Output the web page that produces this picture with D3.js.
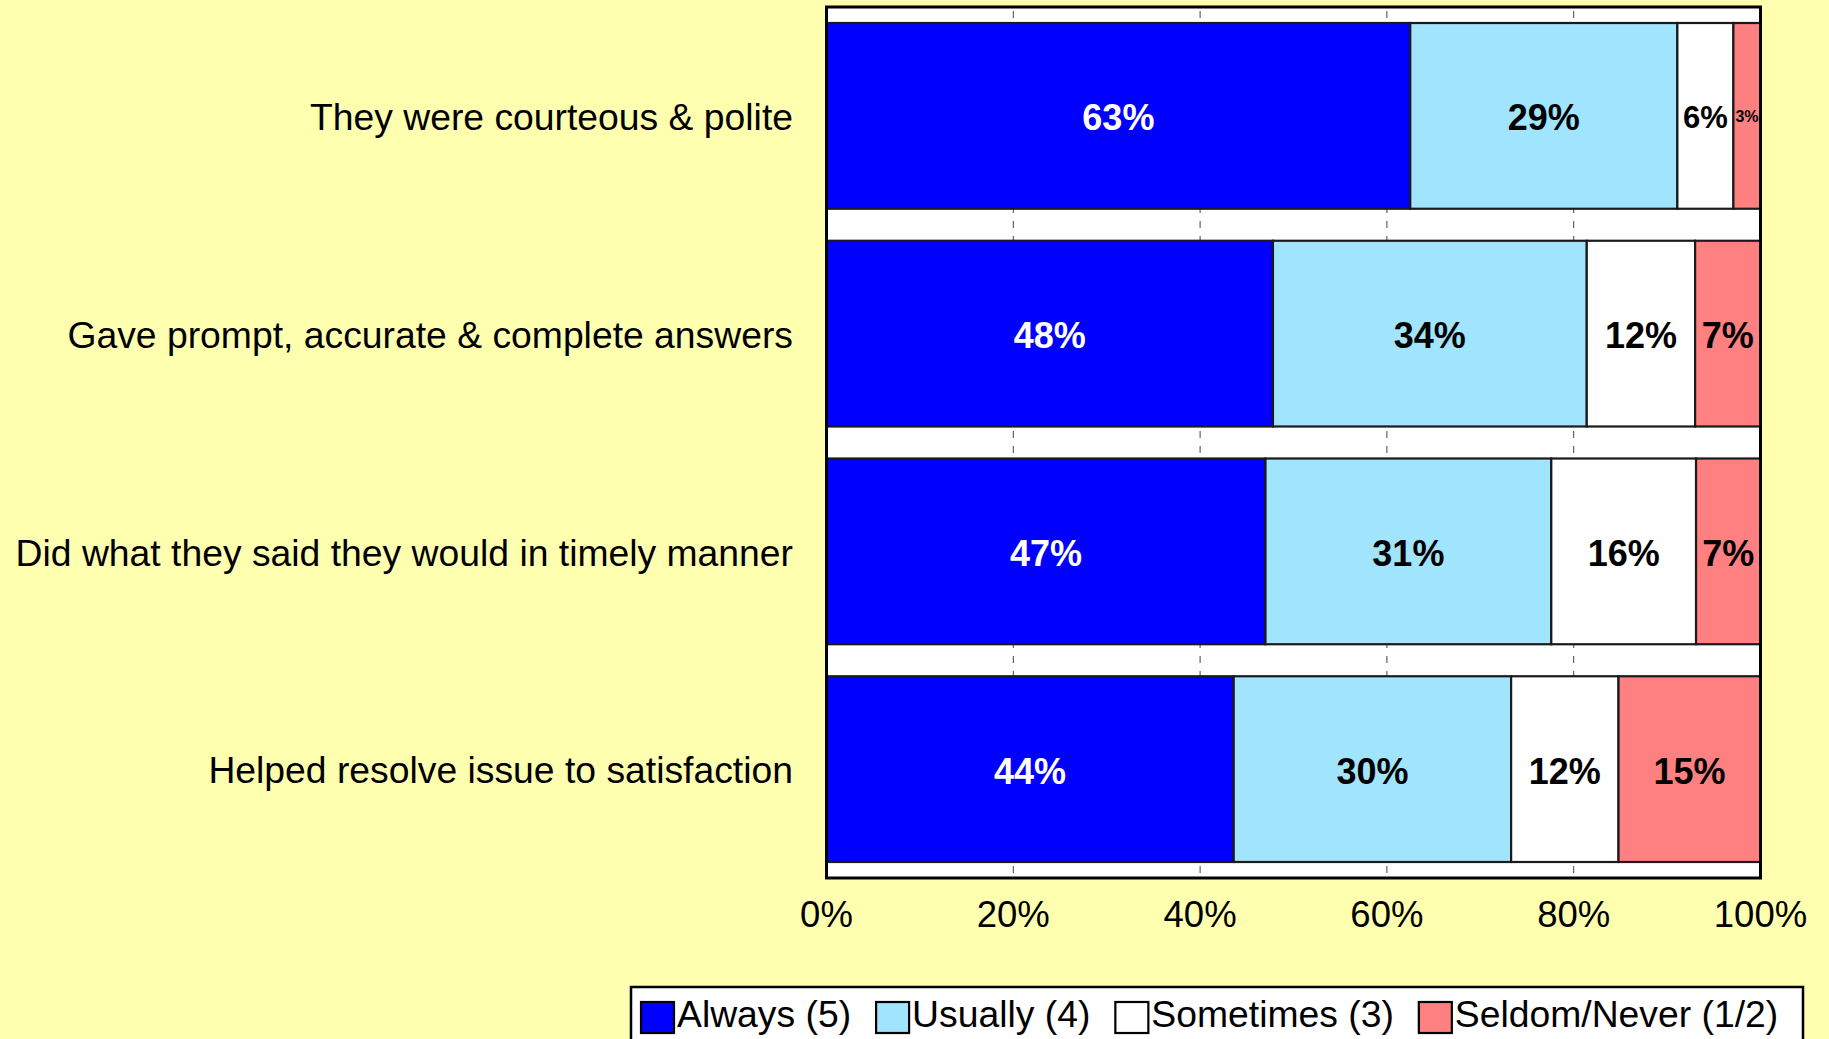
<!DOCTYPE html>
<html>
<head>
<meta charset="utf-8">
<script src="https://cdn.jsdelivr.net/npm/d3@7"></script>
<style>
    body { margin: 0; background: #ffffb0; }
    text { font-family: "Liberation Sans", Arial, sans-serif; }
</style>
</head>
<body>
<div id="chart"></div>
<script>
var width = 1829;
var height = 1039;

// survey questions, top to bottom
var categories = [
    "They were courteous & polite",
    "Gave prompt, accurate & complete answers",
    "Did what they said they would in timely manner",
    "Helped resolve issue to satisfaction"
];
var seriesNames = ["Always (5)", "Usually (4)", "Sometimes (3)", "Seldom/Never (1/2)"];
var seriesColors = ["#0000ff", "#a0e4fd", "#ffffff", "#ff8080"];
var labelColors = ["#ffffff", "#000000", "#000000", "#000000"];

// percent of responses per question, one array per series
var always = [62.5, 47.8, 47.0, 43.6];
var usually = [28.6, 33.6, 30.6, 29.7];
var sometimes = [6.0, 11.6, 15.5, 11.5];
var seldom = [2.9, 7.0, 6.9, 15.2];

var tickValues = [0, 20, 40, 60, 80, 100];

var plotLeft = 826.5;
var plotRight = 1760.5;
var plotTop = 7;
var plotBottom = 878;

var svg = d3.select("#chart").append("svg")
    .attr("width", width)
    .attr("height", height);

svg.append("rect").attr("width", width).attr("height", height).attr("fill", "#ffffb0");

var x = d3.scaleLinear().domain([0, 100]).range([plotLeft, plotRight]);
var y = d3.scaleBand().domain(categories).range([plotTop, plotBottom])
    .paddingInner(0.147).paddingOuter(0.0735);

// build rows for the stack
var keys = ["s0", "s1", "s2", "s3"];
var rows = categories.map(function (c, i) {
    return {cat: c, s0: always[i], s1: usually[i], s2: sometimes[i], s3: seldom[i]};
});
var stacked = d3.stack().keys(keys)(rows);

// plot area
svg.append("rect")
    .attr("x", plotLeft).attr("y", plotTop)
    .attr("width", plotRight - plotLeft).attr("height", plotBottom - plotTop)
    .attr("fill", "#ffffff");

// dashed gridlines
svg.append("g").selectAll("line")
    .data(tickValues.filter(function (t) { return t > 0 && t < 100; }))
    .enter().append("line")
    .attr("x1", d => x(d)).attr("x2", d => x(d))
    .attr("y1", plotTop).attr("y2", plotBottom)
    .attr("stroke", "#444").attr("stroke-width", 1)
    .attr("stroke-dasharray", "7,8").attr("stroke-dashoffset", -4);

// bar segments
var groups = svg.append("g").selectAll("g")
    .data(stacked).enter().append("g")
    .attr("fill", (d, i) => seriesColors[i]);

groups.selectAll("rect")
    .data(d => d).enter().append("rect")
    .attr("x", d => x(d[0]))
    .attr("y", d => y(d.data.cat))
    .attr("width", d => x(d[1]) - x(d[0]))
    .attr("height", y.bandwidth())
    .attr("stroke", "#1a1a1a").attr("stroke-width", 2.2);

// value labels, smaller when the segment is narrow
groups.each(function (series, si) {
    d3.select(this).selectAll("text")
        .data(series).enter().append("text")
        .attr("x", d => (x(d[0]) + x(d[1])) / 2)
        .attr("y", d => y(d.data.cat) + y.bandwidth() / 2)
        .attr("text-anchor", "middle")
        .attr("dy", "0.4em")
        .attr("font-weight", "bold")
        .attr("font-size", function (d) {
            var w = x(d[1]) - x(d[0]);
            return Math.min(36, Math.round(0.52 * w + 2));
        })
        .attr("fill", labelColors[si])
        .text(d => Math.round(d.data[keys[si]]) + "%");
});

// plot border
svg.append("rect")
    .attr("x", plotLeft).attr("y", plotTop)
    .attr("width", plotRight - plotLeft).attr("height", plotBottom - plotTop)
    .attr("fill", "none").attr("stroke", "#000").attr("stroke-width", 3);

// category labels
svg.append("g").selectAll("text")
    .data(categories).enter().append("text")
    .attr("x", 793)
    .attr("y", d => y(d) + y.bandwidth() / 2)
    .attr("dy", "0.38em")
    .attr("text-anchor", "end")
    .attr("font-size", 37.3)
    .attr("fill", "#000")
    .text(d => d);

// x axis labels
svg.append("g").selectAll("text")
    .data(tickValues).enter().append("text")
    .attr("x", d => x(d))
    .attr("y", 914)
    .attr("dy", "0.36em")
    .attr("text-anchor", "middle")
    .attr("font-size", 36.5)
    .attr("fill", "#000")
    .text(d => d + "%");

// legend
var legend = svg.append("g");
legend.append("rect")
    .attr("x", 631).attr("y", 987)
    .attr("width", 1803 - 631).attr("height", 80)
    .attr("fill", "#ffffff").attr("stroke", "#000").attr("stroke-width", 2.5);

var lx = 641;
seriesNames.forEach(function (name, i) {
    legend.append("rect")
        .attr("x", lx).attr("y", 1002)
        .attr("width", 33).attr("height", 31)
        .attr("fill", seriesColors[i])
        .attr("stroke", "#000").attr("stroke-width", 2.2);
    var t = legend.append("text")
        .attr("x", lx + 36).attr("y", 1027)
        .attr("font-size", 37.3)
        .attr("fill", "#000")
        .text(name);
    lx = lx + 36 + t.node().getComputedTextLength() + 25;
});
</script>
</body>
</html>
